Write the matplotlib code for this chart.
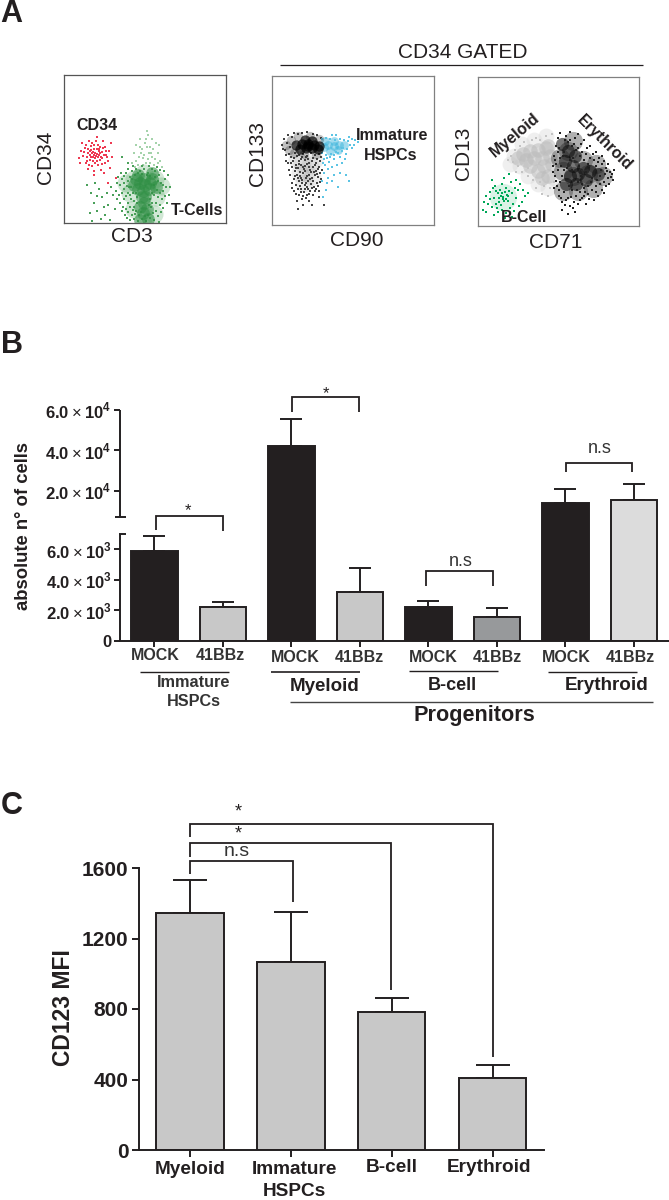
import numpy as np
import matplotlib
matplotlib.use("Agg")
import matplotlib.pyplot as plt
from matplotlib.ticker import FixedLocator

W, H = 669, 1200
INK = "#231f20"
plt.rcParams["font.family"] = ["Liberation Sans", "DejaVu Sans"]
plt.rcParams["mathtext.fontset"] = "custom"
plt.rcParams["mathtext.rm"] = "Liberation Sans"
plt.rcParams["mathtext.bf"] = "Liberation Sans:bold"

# ---- panel B values
b_mean = [5900, 2240, 42200, 3230, 2220, 1580, 14000, 15500]
b_top = [6880, 2570, 55700, 4770, 2600, 2160, 21000, 23500]
b_fill = [INK, "#c8c8c8", INK, "#c8c8c8", INK, "#97999b", INK, "#dcdcdc"]
b_labels = ["MOCK", "41BBz", "MOCK", "41BBz", "MOCK", "41BBz", "MOCK", "41BBz"]
b_ticks = [0, 2000, 4000, 6000, 20000, 40000, 60000]
b_ticklabels = ["0",
                r"$\mathbf{2.0}\times\mathbf{10}^{\mathbf{3}}$",
                r"$\mathbf{4.0}\times\mathbf{10}^{\mathbf{3}}$",
                r"$\mathbf{6.0}\times\mathbf{10}^{\mathbf{3}}$",
                r"$\mathbf{2.0}\times\mathbf{10}^{\mathbf{4}}$",
                r"$\mathbf{4.0}\times\mathbf{10}^{\mathbf{4}}$",
                r"$\mathbf{6.0}\times\mathbf{10}^{\mathbf{4}}$"]

# ---- panel C values
c_mean = [1345, 1067, 783, 408]
c_top = [1534, 1350, 864, 482]
c_ticks = [0, 400, 800, 1200, 1600]

# ---- panel A events, hand-read in channel units of each plot
a1_red = [(31,70),(27,73),(35,68),(29,66),(33,74),(24,70),(38,71),(30,78),(36,63),(26,63),(21,75),(41,76),
          (19,67),(43,66),(32,82),(25,82),(39,82),(22,60),(34,58),(28,57),(41,60),(17,72),(45,72),(15,65),
          (30,52),(37,53),(24,54),(47,80),(18,80),(33,86),(28,70),(32,67),(35,72),(30,74),(26,68),(37,66),
          (29,62),(34,78),(23,66),(40,68),(27,77),(31,60),(42,72),(20,71),(36,76),(25,58),(38,59),(22,78),
          (44,62),(16,60),(48,66),(30,48),(40,50),(46,55),(52,45),(44,40),(29,71),(33,69),(31,65),(35,74),
          (27,66),(24,74),(38,65),(33,62),(28,80),(36,70),(30,68),(26,72),(34,66),(39,75),(23,62),(42,68)]
a1_wide = [(66,30),(70,14),(92,26),(70,44),(91,44),(80,7),(90,9),(80,50),(62,40),(97,37)]
a1_core = [(81,38),(76,40),(86,40),(80,44),(85,34),(74,34),(79,32),(88,44),(72,44),(78,26),(80,20),(76,16),
           (83,14),(79,10),(81,26),(70,38),(92,36),(74,48),(88,50),(84,4),(76,3)]
a1_t = [(56,38),(58,44),(60,34),(62,50),(64,42),(66,28),(60,24),(68,52),(70,22),(72,54),(74,50),(65,36),
        (95,48),(97,40),(99,32),(101,44),(94,26),(96,18),(91,52),(88,54),(84,50),(80,54),(76,52),(92,12),
        (66,16),(68,8),(70,4),(72,12),(74,2),(78,4),(82,2),(86,5),(90,3),(94,7),(88,20),(86,24),
        (62,14),(64,20),(69,30),(73,26),(90,28),(87,16),(70,16),(84,8),(68,44),(94,42),(64,30),(58,30),
        (98,24),(100,52),(104,48),(106,36),(54,46),(52,32),(56,20),(61,8),(66,46),(71,48),(91,46),(93,33),
        (67,36),(72,30),(75,8),(77,11),(81,7),(89,10),(85,18),(71,9),(63,37),(60,40),(96,30),(99,38),
        (73,20),(69,13),(88,30),(92,20),(64,11),(67,24),(83,48),(78,49),(86,47),(90,38),(57,50),(62,27),
        (59,16),(63,5),(66,3),(97,11),(95,1),(101,27),(103,20),(55,28),(53,40),(60,47),(96,53),(93,56),
        (69,57),(78,57),(85,57),(64,54),(102,36),(105,28),(99,15),(58,12)]
a1_faint = [(70,70),(72,62),(76,84),(78,74),(80,68),(82,60),(84,88),(86,76),(88,66),(90,58),(74,58),(92,80),
            (94,70),(96,62),(81,80),(85,70),(79,58),(88,84),(83,92),(75,66),(68,60),(98,56),(86,60),(76,76),
            (72,78),(79,65),(83,76),(87,70),(91,64),(84,64),(77,70),(89,74),(82,84),(94,60),(71,56),(95,78)]
a1_sparse = [(23,38),(27,30),(30,20),(33,12),(35,34),(38,26),(41,8),(44,18),(47,36),(49,28),(26,10),(37,4),
             (31,40),(43,30),(51,14),(28,2),(53,24),(40,16),(46,3),(33,27),(58,66),(64,60)]

a2_core = [(24,80),(30,81),(36,81),(42,80),(47,79),(28,76),(34,77),(40,77),(46,76),(33,85),(40,84),(36,79)]
a2_halo = [(14,80),(19,85),(17,75),(26,89),(38,89),(47,86),(22,72),(32,71),(44,71)]
a2_lower = [(30,62),(38,60),(34,52),(42,65),(25,66),(32,42),(40,48),(28,52)]
a2_black = [(10,80),(12,86),(13,75),(15,82),(16,90),(17,71),(18,78),(20,88),(22,92),(26,91),(30,92),(35,93),
            (41,91),(45,90),(49,87),(14,70),(11,76),(19,68),(23,72),(27,70),(31,71),(35,69),(39,72),(43,70),
            (47,71),(49,68),(21,64),(24,60),(27,64),(30,68),(33,65),(36,66),(40,64),(44,62),(48,64),(20,58),
            (23,54),(26,57),(29,60),(32,56),(35,61),(38,55),(41,58),(44,54),(47,58),(50,55),(25,50),(28,49),
            (31,52),(34,47),(37,50),(40,47),(43,50),(46,48),(49,46),(22,46),(27,44),(30,42),(33,40),(36,44),
            (39,41),(42,38),(45,42),(24,40),(29,36),(32,33),(35,38),(38,34),(41,30),(27,30),(34,27),(25,24),
            (37,24),(31,20),(44,36),(47,34),(20,42),(18,50),(16,62),(28,53),(33,59),(42,53),(37,62),(29,47),
            (36,36),(26,36),(48,52),(22,34),(14,64),(30,26),(40,20),(47,28),(52,20),(26,16),
            (25,69),(29,66),(34,68),(41,67),(45,66),(22,67),(27,61),(31,58),(37,58),(43,60),(46,56),(24,57),
            (33,54),(39,53),(45,51),(26,47),(35,49),(41,44),(30,45),(38,46),(23,49),(48,43),(34,42),(28,39),
            (43,34),(37,31),(31,29),(24,31),(20,37),(17,55),(19,62),(33,36),(40,37),(46,39),(29,33),(35,30)]
a2_blue_core = [(56,80),(62,79),(52,78),(67,80),(58,74),(72,80),(62,84),(53,84),(66,75)]
a2_blue = [(50,86),(54,87),(58,86),(63,85),(68,86),(72,85),(76,84),(80,86),(83,85),(78,80),(75,76),(70,74),
           (66,72),(62,70),(58,68),(54,70),(50,72),(52,66),(57,63),(62,66),(68,68),(74,71),(80,77),(53,60),
           (56,56),(60,58),(65,60),(70,62),(52,52),(56,47),(62,50),(68,52),(74,50),(77,44),(55,42),(50,44),
           (60,44),(66,38),(54,35),(51,28),(86,83),(64,90),(60,90),(82,80),(77,88),(71,77),(64,73),(59,71),
           (55,67),(51,62),(73,66)]

a3_gray = [(45,72),(52,75),(60,76),(68,78),(56,68),(64,68),(72,70),(48,66),(40,68),(66,60),(70,50),(60,55),
           (74,62),(70,80),(52,60),(64,48)]
a3_gray_wide = [(36,70),(42,60),(50,50),(60,42),(70,38),(76,48),(44,82),(56,86),(68,90),(32,62)]
a3_gray_dots = [(33,70),(35,64),(37,76),(40,60),(42,80),(46,84),(50,58),(54,86),(58,88),(62,86),(44,54),(50,50),
                (55,46),(62,44),(66,40),(72,38),(70,30),(76,44),(64,32),(58,38),(68,90),(74,92),(30,66),(38,54)]
a3_halo = [(85,55),(95,50),(110,52),(125,50),(90,75),(85,35),(100,35),(115,38),(95,85),(82,68),(105,66),(118,62)]
a3_core = [(90,75),(87,65),(95,60),(100,52),(92,50),(105,58),(112,55),(97,70),(88,42),(98,42),(120,52),(84,82),
           (108,46)]
a3_black = [(75,60),(77,50),(76,70),(78,80),(79,40),(80,88),(81,30),(82,93),(84,24),(86,34),(88,90),(90,28),
            (92,86),(94,36),(96,82),(98,30),(100,78),(102,34),(104,74),(106,38),(108,72),(110,40),(112,68),(114,36),
            (116,66),(118,40),(120,64),(122,42),(124,62),(126,44),(128,58),(130,48),(132,54),(134,52),(136,56),(127,52),
            (123,56),(118,60),(114,48),(110,62),(106,66),(102,70),(98,76),(94,80),(90,84),(86,74),(82,68),(80,56),
            (78,62),(84,50),(86,56),(92,66),(96,46),(100,44),(104,42),(108,54),(116,52),(122,50),(113,44),(118,34),
            (124,36),(110,32),(104,28),(96,24),(88,26),(92,20),(100,22),(84,16),(82,44),(76,38),(80,74),(92,94),
            (100,92),(106,86),(112,80),(118,74),(124,70),(130,62),(135,46),(128,40),(97,14),(90,12),(108,22),(116,26),
            (94,56),(101,60),(89,58),(83,60),(95,68),(103,50),(111,60),(119,46),(85,70),(91,40),(99,36),(107,34),
            (83,28),(87,21),(93,29),(95,18),(102,26),(106,30),(111,27),(120,30),(126,33),(131,42),(133,49),(129,55),
            (126,65),(121,68),(115,72),(109,78),(103,82),(97,88),(87,86),(81,78),(77,66),(75,54),(78,45),(81,36)]
a3_green = [(25,29),(20,33),(30,25),(16,28),(34,33),(23,21),(28,38),(12,34),(38,28),(18,22),(32,18),(14,19),
            (40,36),(24,42),(8,30),(44,24),(36,15),(20,14),(10,22),(28,13),(42,42),(17,40),(33,44),(6,24),
            (47,30),(26,48),(14,46),(38,46),(22,36),(29,31),(26,25),(21,28),(31,35),(35,22),(18,35),(12,27),
            (41,20),(24,16),(27,34),(23,30),(30,30),(19,18),(15,38),(37,38),(45,36),(50,33),(31,52),(8,14),
            (16,11),(27,8),(34,9),(5,16),(25,27),(28,27),(24,33),(21,24)]


def px_axes(left, top, right, bottom, **kw):
    return fig.add_axes([left / W, 1 - bottom / H, (right - left) / W, (bottom - top) / H], **kw)


fig = plt.figure(figsize=(W / 100, H / 100), dpi=100, facecolor="white")
ov = px_axes(0, 0, W, H, zorder=10)
ov.set_xlim(0, W)
ov.set_ylim(H, 0)
ov.axis("off")
ov.patch.set_alpha(0)


def label(x, y, s, size, bold=True, rot=0, color=INK):
    ov.text(x, y, s, fontsize=size, fontweight="bold" if bold else "normal", rotation=rot,
            ha="center", va="center", color=color, rotation_mode="anchor" if rot not in (0, 90) else "default")


def line(xs, ys, lw=1.4, color=INK):
    ov.plot(xs, ys, color=color, lw=lw, solid_capstyle="butt", solid_joinstyle="miter")


def bracket(x0, x1, y, y0, y1, lw=1.3):
    line([x0, x0, x1, x1], [y0, y, y, y1], lw=lw)


# ---- panel A
def flow_axes(left, top, right, bottom, edge):
    ax = px_axes(left, top, right, bottom)
    ax.set_xlim(0, right - left)
    ax.set_ylim(0, bottom - top)
    ax.set_xticks([])
    ax.set_yticks([])
    for sp in ax.spines.values():
        sp.set_color(edge)
        sp.set_linewidth(0.9)
    return ax


def dots(ax, pts, color, s=1.4, alpha=1.0):
    arr = np.array(pts)
    ax.scatter(arr[:, 0], arr[:, 1], s=s, c=color, alpha=alpha, linewidths=0, marker="s")


def blobs(ax, pts, color, s, alpha):
    arr = np.array(pts)
    ax.scatter(arr[:, 0], arr[:, 1], s=s, c=color, alpha=alpha, linewidths=0, marker="o")


a1 = flow_axes(64, 75, 226, 223, "#555555")
dots(a1, a1_sparse, "#4aa05a")
dots(a1, a1_faint, "#a5d3ab")
blobs(a1, a1_wide, "#4aa05a", 170, 0.25)
dots(a1, a1_t, "#4aa05a")
blobs(a1, a1_core, "#2f8f44", 85, 0.55)
dots(a1, a1_red, "#ee3a52")

a2 = flow_axes(272, 76, 434, 225, "#808080")
blobs(a2, a2_lower, "#777777", 170, 0.13)
dots(a2, a2_black, "#444444", s=0.7)
blobs(a2, a2_blue_core, "#2fb0da", 40, 0.45)
dots(a2, a2_blue, "#5cc4e4", s=1.0)
blobs(a2, a2_halo, "#222222", 45, 0.28)
blobs(a2, a2_core, "#000000", 55, 0.7)

a3 = flow_axes(478, 77, 639, 226, "#808080")
blobs(a3, a3_gray_wide, "#d8d8d8", 130, 0.4)
blobs(a3, a3_gray, "#bcbcbc", 110, 0.55)
dots(a3, a3_gray_dots, "#c4c4c4")
blobs(a3, a3_halo, "#444444", 190, 0.42)
blobs(a3, a3_core, "#0a0a0a", 90, 0.55)
dots(a3, a3_black, "#222222", s=0.8)
blobs(a3, [(25, 29)], "#00a859", 380, 0.15)
dots(a3, a3_green, "#00a859", s=1.8)

label(11, 14, "A", 22)
label(463, 52, "CD34 GATED", 15, bold=False)
line([280, 642.5], [65, 65], lw=0.9)
label(45, 157, "CD34", 15, bold=False, rot=90)
label(132, 237, "CD3", 15, bold=False)
label(97, 126, "CD34", 11.5)
label(197.5, 210.5, "T-Cells", 11.5)
label(258, 154, "CD133", 15, bold=False, rot=90)
label(357, 240, "CD90", 15, bold=False)
label(392, 135.5, "Immature", 11.5)
label(391, 155, "HSPCs", 11.5)
label(463.5, 153, "CD13", 15, bold=False, rot=90)
label(556, 243, "CD71", 15, bold=False)
label(515, 135, "Myeloid", 11.5, rot=40)
label(604, 143, "Erythroid", 11.5, rot=-45)
label(524, 218, "B-Cell", 11.5)

# ---- panel B: broken y axis through a piecewise scale
_val = [-1e6, 0, 7000, 7001, 60000, 1e6]
_pix = [-100, 0, 107, 124, 231, 400]


def b_fwd(y):
    return np.interp(y, _val, _pix)


def b_inv(p):
    return np.interp(p, _pix, _val)


axb = px_axes(120, 410, 669, 641)
axb.set_yscale("function", functions=(b_fwd, b_inv))
axb.set_ylim(0, 60000)
axb.set_xlim(-0.5036, 7.511)
xb = np.arange(len(b_mean))
axb.errorbar(xb, b_mean, yerr=[np.zeros(8), np.array(b_top) - np.array(b_mean)], fmt="none",
             ecolor=INK, elinewidth=1.4, capsize=8, capthick=1.4, zorder=1)
axb.bar(xb, b_mean, width=0.68, color=b_fill, edgecolor=INK, linewidth=1.4, zorder=2)
axb.yaxis.set_major_locator(FixedLocator(b_ticks))
axb.yaxis.set_minor_locator(FixedLocator([]))
axb.set_yticklabels(b_ticklabels, fontsize=12, fontweight="bold", color=INK)
axb.set_xticks(xb)
axb.set_xticklabels([])
axb.tick_params(axis="both", which="major", length=4.4, width=1.4, color=INK, pad=1.5)
for k in ("top", "right", "left"):
    axb.spines[k].set_visible(False)
axb.spines["bottom"].set_linewidth(1.4)
axb.spines["bottom"].set_color(INK)
axb.patch.set_alpha(0)
trans = axb.get_yaxis_transform()
axb.plot([0, 0], [0, 7000], color=INK, lw=1.4, transform=trans, clip_on=False, solid_capstyle="butt")
axb.plot([0, 0], [7001, 60000], color=INK, lw=1.4, transform=trans, clip_on=False, solid_capstyle="butt")
line([119, 126], [534, 534])
line([115, 126], [517, 517])

label(12, 345, "B", 22)
label(24, 525.5, "absolute n° of cells", 13.3, rot=90)
b_xl = [155.7, 220, 295, 359, 433, 497.7, 566.7, 630.7]
b_yl = [655.7, 655.7, 657.7, 657.7, 658, 658, 657, 657]
for x, y, s in zip(b_xl, b_yl, b_labels):
    label(x, y, s, 11.5, color="#333333")
line([140, 229], [672, 672], lw=1.0)
line([271, 360], [672, 672], lw=1.2)
line([409, 497.7], [671, 671], lw=1.0)
line([548, 636.7], [672.3, 672.3], lw=1.0)
line([290, 653], [701.7, 701.7], lw=1.0, color="#444444")
label(194, 682.5, "Immature", 11.7, color="#333333")
label(194, 701.5, "HSPCs", 11.7, color="#333333")
label(325, 686.5, "Myeloid", 13.5)
label(452, 686, "B-cell", 13)
label(607, 685.5, "Erythroid", 13.6)
label(474, 715.5, "Progenitors", 15.6)
bracket(155.7, 222.7, 515.7, 530, 531)
label(187.7, 511, "*", 12, bold=False)
bracket(291.7, 359, 397.3, 412.3, 412.3)
label(325.7, 394, "*", 12, bold=False)
bracket(425.7, 493, 570.7, 585.7, 585.7)
label(460.7, 561.5, "n.s", 13, bold=False, color="#333333")
bracket(566.3, 632.3, 463, 471.7, 471.7)
label(599.3, 448.3, "n.s", 13, bold=False, color="#333333")

# ---- panel C
axc = px_axes(139, 868, 544, 1150)
axc.set_ylim(0, 1600)
axc.set_xlim(-0.504, 3.509)
xc = np.arange(len(c_mean))
axc.errorbar(xc, c_mean, yerr=[np.zeros(4), np.array(c_top) - np.array(c_mean)], fmt="none",
             ecolor=INK, elinewidth=1.4, capsize=11.9, capthick=1.4, zorder=1)
axc.bar(xc, c_mean, width=0.669, color="#c8c8c8", edgecolor=INK, linewidth=1.4, zorder=2)
axc.set_yticks(c_ticks)
axc.set_yticklabels([str(v) for v in c_ticks], fontsize=15, fontweight="bold", color=INK)
axc.set_xticks(xc)
axc.set_xticklabels([])
axc.tick_params(axis="both", length=5, width=1.4, color=INK, pad=2.5)
for k in ("top", "right"):
    axc.spines[k].set_visible(False)
for k in ("left", "bottom"):
    axc.spines[k].set_linewidth(1.4)
    axc.spines[k].set_color(INK)
axc.patch.set_alpha(0)

label(12, 806, "C", 22)
label(63, 1008, "CD123 MFI", 16.5, rot=90)
label(190, 1169, "Myeloid", 13.7)
label(294, 1170, "Immature", 13.7)
label(294, 1192, "HSPCs", 13.7)
label(392, 1167.5, "B-cell", 13.7)
label(489, 1167, "Erythroid", 13.7)
bracket(190.2, 492.8, 823.7, 837, 1057)
bracket(190.2, 391, 843, 856.7, 990)
bracket(190.2, 292.5, 861, 874, 902)
label(238, 812, "*", 13, bold=False)
label(238, 834, "*", 13, bold=False)
label(237, 852, "n.s", 14, bold=False, color="#333333")

fig.savefig("out.png", dpi=100)
